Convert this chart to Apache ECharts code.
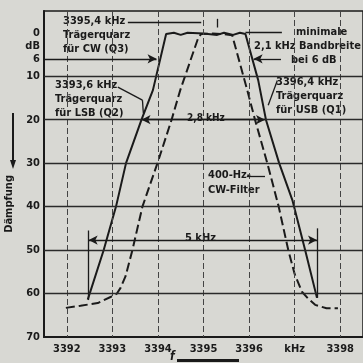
<!DOCTYPE html>
<html>
<head>
<meta charset="utf-8">
<script src="https://cdn.jsdelivr.net/npm/echarts@6/dist/echarts.min.js"></script>
<style>
  html, body { margin: 0; padding: 0; background: #d8d8d3; }
  #chart { width: 363px; height: 363px; }
</style>
</head>
<body>
<div id="chart"></div>
<script>
// Durchlasskurven (kHz, dB)
const ssbFreq = [3392.46, 3392.81, 3393.08, 3393.3, 3393.64, 3393.89, 3394.18, 3394.35, 3394.5, 3394.65, 3395.0, 3395.3, 3395.45, 3395.65, 3395.8, 3395.92, 3396.2, 3396.37, 3396.66, 3396.95, 3397.23, 3397.49];
const ssbDb   = [61.4, 50, 40, 30, 20, 13.2, 0.3, 0, 0.5, 0, 0.2, 0.5, 0, 0.5, 0, 0.3, 10.9, 20, 30, 38.5, 50, 61];
const cwFreq = [3391.98, 3392.3, 3392.68, 3392.96, 3393.1, 3393.18, 3393.29, 3393.44, 3393.66, 3393.99, 3394.3, 3394.49, 3394.89, 3394.95, 3395.2, 3395.45, 3395.63, 3395.96, 3396.13, 3396.4, 3396.65, 3396.86, 3397.0, 3397.16, 3397.3, 3397.45, 3397.7, 3397.95];
const cwDb   = [63.3, 62.8, 62.2, 60.8, 60.0, 58.7, 56, 50, 40, 30, 20, 13.2, 1, 0.3, 0.2, 0.3, 0.6, 13.2, 20, 30, 40, 50, 55.5, 59.6, 61.2, 62.6, 63.4, 63.4];

// Achsen
const xTickValues = [3392, 3393, 3394, 3395, 3396, 3397, 3398];
const xTickLabels = ['3392', '3393', '3394', '3395', '3396', 'kHz', '3398'];
const yTickValues = [0, 3, 6, 10, 20, 30, 40, 50, 60, 70];
const yTickLabels = ['0', 'dB', '6', '10', '20', '30', '40', '50', '60', '70'];
const yGridValues = [10, 20, 30, 40, 50, 60];

const bg = '#d8d8d3';
const ink = '#1a1a1a';
const font = '"DejaVu Sans Condensed", "Liberation Sans", sans-serif';

let chart = echarts.init(document.getElementById('chart'));

function pairs(xs, ys) {
  return xs.map((x, i) => [x, ys[i]]);
}

function seg(x1, y1, x2, y2, sym) {
  return [
    { coord: [x1, y1], symbol: sym ? sym[0] : 'none' },
    { coord: [x2, y2], symbol: sym ? sym[1] : 'none' }
  ];
}

function txt(x, y, s, size) {
  return { type: 'text', left: x, top: y, style: { text: s, fill: ink, font: 'bold ' + (size || 11) + 'px ' + font } };
}

let option = {
  backgroundColor: bg,
  animation: false,
  grid: { left: 44, top: 11, right: 0, bottom: 26, show: true, borderColor: ink, borderWidth: 1.5 },
  xAxis: {
    type: 'value', min: 3391.5, max: 3398.5, interval: 0.5, position: 'bottom',
    axisLine: { onZero: false, lineStyle: { color: ink, width: 2 } },
    axisTick: { show: false },
    splitLine: { show: false },
    axisLabel: {
      color: ink, fontFamily: font, fontSize: 11, fontWeight: 'bold', margin: 7, showMaxLabel: false,
      formatter: v => {
        let i = xTickValues.findIndex(t => Math.abs(t - v) < 1e-6);
        return i >= 0 ? xTickLabels[i] : '';
      }
    }
  },
  yAxis: {
    type: 'value', min: -5, max: 70, interval: 1, inverse: true,
    axisLine: { onZero: false, lineStyle: { color: ink, width: 2 } },
    axisTick: { show: false },
    splitLine: { show: false },
    axisLabel: {
      color: ink, fontFamily: font, fontSize: 11, fontWeight: 'bold', margin: 4,
      formatter: v => {
        let i = yTickValues.findIndex(t => Math.abs(t - v) < 1e-6);
        return i >= 0 ? yTickLabels[i] : '';
      }
    }
  },
  series: [
    {
      name: 'grid', type: 'line', data: [], silent: true,
      markLine: {
        silent: true, symbol: 'none', animation: false,
        label: { show: false },
        data: xTickValues.map(v => ({ xAxis: v, lineStyle: { color: '#444', width: 1, type: [6, 3] } }))
          .concat(yGridValues.map(v => ({ yAxis: v, lineStyle: { color: '#2a2a2a', width: 1.3, type: 'solid' } })))
      }
    },
    {
      name: 'SSB', type: 'line', data: pairs(ssbFreq, ssbDb), symbol: 'none',
      lineStyle: { color: ink, width: 2 }
    },
    {
      name: 'CW', type: 'line', data: pairs(cwFreq, cwDb), symbol: 'none',
      lineStyle: { color: ink, width: 2, type: [9, 4] }
    },
    {
      name: 'notes', type: 'line', data: [], silent: true,
      markLine: {
        silent: true, animation: false, symbolSize: [7, 9],
        lineStyle: { color: ink, width: 1.3, type: 'solid' },
        label: { show: false },
        data: [
          seg(3391.52, 6, 3393.97, 6, ['none', 'arrow']),
          seg(3396.7, 6, 3396.1, 6, ['none', 'arrow']),
          seg(3393.64, 20, 3396.35, 20, ['arrow', 'arrow']),
          seg(3392.48, 47.7, 3397.49, 47.7, ['arrow', 'arrow']),
          seg(3392.48, 45.5, 3392.48, 61.5),
          seg(3397.49, 45, 3397.49, 61),
          seg(3393.34, -2.5, 3394.95, -2.5),
          seg(3395.3, -3.2, 3395.3, -1.2),
          seg(3395.92, 0, 3396.72, 0),
          seg(3393.12, 12.5, 3393.66, 15.5),
          seg(3393.66, 15.5, 3393.68, 18.5),
          seg(3396.62, 11, 3396.42, 16.7),
          seg(3395.95, 33, 3396.35, 33)
        ]
      }
    }
  ],
  graphic: [
    txt(63, 16, '3395,4 kHz'),
    txt(63, 30, 'Trägerquarz'),
    txt(63, 44, 'für CW (Q3)'),
    txt(55, 80, '3393,6 kHz'),
    txt(55, 94, 'Trägerquarz'),
    txt(55, 108, 'für LSB (Q2)'),
    txt(296, 27, 'minimale'),
    txt(254, 41, '2,1 kHz Bandbreite'),
    txt(291, 55, 'bei 6 dB'),
    txt(276, 77, '3396,4 kHz'),
    txt(276, 91, 'Trägerquarz'),
    txt(276, 105, 'für USB (Q1)'),
    { type: 'rect', left: 184, top: 113, shape: { width: 42, height: 12 }, style: { fill: bg } },
    txt(187, 113, '2,8 kHz', 10),
    txt(208, 170, '400-Hz-'),
    txt(208, 185, 'CW-Filter'),
    { type: 'rect', left: 182, top: 233, shape: { width: 38, height: 13 }, style: { fill: bg } },
    txt(185, 233, '5 kHz'),
    { type: 'text', left: 4, top: 175, rotation: Math.PI / 2,
      style: { text: 'Dämpfung', fill: ink, font: 'bold 11px ' + font } },
    { type: 'polyline', shape: { points: [[13, 113], [13, 164]] }, style: { stroke: ink, lineWidth: 2 } },
    { type: 'polygon', shape: { points: [[10, 160], [16, 160], [13, 169]] }, style: { fill: ink } },
    { type: 'text', left: 170, top: 351, style: { text: 'f', fill: ink, font: 'italic bold 12px ' + font } },
    { type: 'rect', left: 177, top: 359, shape: { width: 62, height: 3 }, style: { fill: ink } }
  ]
};

chart.setOption(option);
</script>
</body>
</html>
